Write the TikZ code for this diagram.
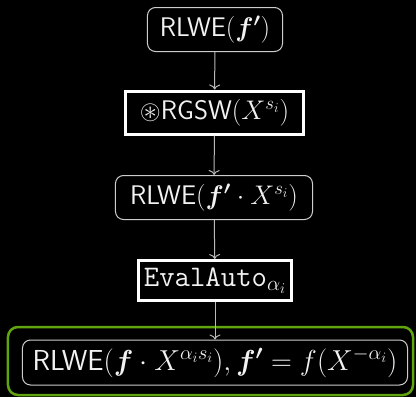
\RequirePackage{fix-cm}
\documentclass[tikz,border=0pt]{standalone}
\usepackage{amsmath,amssymb,bm}
\usetikzlibrary{arrows.meta}
\definecolor{fg}{RGB}{242,242,242}
\definecolor{edge}{RGB}{205,205,205}
\definecolor{wire}{RGB}{185,185,185}
\definecolor{okgreen}{RGB}{96,164,16}
\tikzset{
  lbl/.style={font=\fontsize{27}{32}\selectfont\sffamily, text=fg, inner sep=0pt, align=center},
  biglbl/.style={font=\fontsize{29}{35}\selectfont\sffamily},
  ttlbl/.style={font=\fontsize{30}{36}\selectfont\sffamily},
  softbox/.style={lbl, draw=edge, line width=1bp, rounded corners=8bp},
  hardbox/.style={lbl, draw=white, line width=3bp},
  conn/.style={draw=wire, line width=1bp, -{To[length=5bp,width=11bp]}},
}
\begin{document}
\begin{tikzpicture}[x=1bp,y=-1bp]
  \fill[black] (0,0) rectangle (416,397);
  \useasboundingbox (0,0) rectangle (416,397);

  \node[softbox, minimum width=135bp, minimum height=44bp] (rin) at (215,29.5)
    {RLWE$(\bm{f'})$};
  \node[hardbox, minimum width=177bp, minimum height=43bp] (rgsw) at (214.5,112.5)
    {$\circledast$RGSW$(X^{s_i})$};
  \node[softbox, minimum width=197bp, minimum height=44bp] (rmul) at (214,197.5)
    {RLWE$(\bm{f'}\cdot X^{s_i})$};
  \node[hardbox, ttlbl, minimum width=153bp, minimum height=40bp] (auto) at (215,280.5)
    {\texttt{EvalAuto}$_{\alpha_i}$};
  \node[softbox, biglbl, minimum width=385bp, minimum height=45bp] (rout) at (215,362.5)
    {RLWE$(\bm{f}\cdot X^{\alpha_i s_i}), \bm{f'} = f(X^{-\alpha_i})$};
  \node[draw=okgreen, line width=2.5bp, rounded corners=10bp, inner sep=0pt,
        minimum width=405bp, minimum height=68bp] (frame) at (210.5,361) {};

  \draw[conn] (rin) -- (rgsw);
  \draw[conn] (rgsw) -- (rmul);
  \draw[conn] (rmul) -- (auto);
  \draw[conn] (auto) -- (rout);
\end{tikzpicture}
\end{document}
